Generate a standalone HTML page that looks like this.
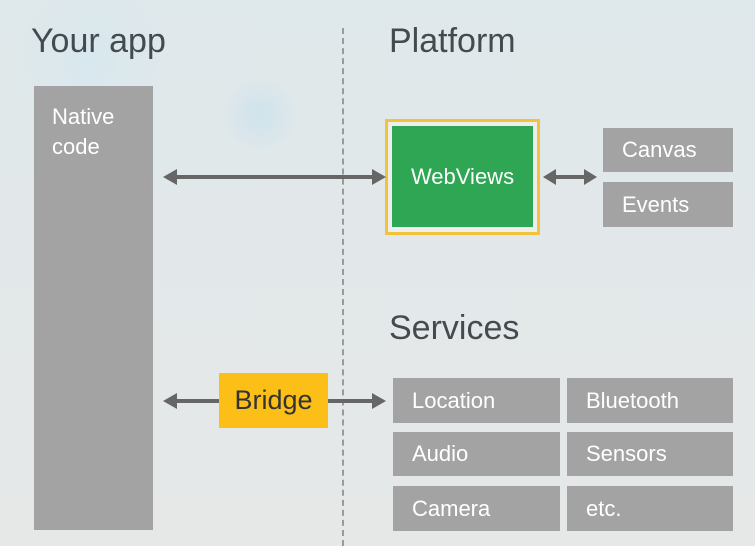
<!DOCTYPE html>
<html><head><meta charset="utf-8"><style>
body{margin:0;width:755px;height:546px;overflow:hidden;background:#e2e8ea;font-family:"Liberation Sans",sans-serif;position:relative}
.b{position:absolute;background:#a3a3a3;color:#fff;font-size:22px;box-sizing:border-box;padding-left:19px;display:flex;align-items:center}
.t{position:absolute;font-size:34px;color:#444b50}
</style></head><body>
<div style="position:absolute;left:0;top:0;width:755px;height:546px;background:radial-gradient(circle at 260px 115px,#cfe3ec 0,rgba(0,0,0,0) 40px),radial-gradient(circle at 90px 60px,#d8e8ee 0,rgba(0,0,0,0) 80px),linear-gradient(180deg,#dfe8eb,#e6e8e8)"></div>
<div class="t" style="left:31px;top:22px">Your app</div>
<div class="t" style="left:389px;top:22px">Platform</div>
<div class="t" style="left:389px;top:309px">Services</div>
<div style="position:absolute;left:342px;top:28px;height:518px;border-left:2px dashed #9a9a9a"></div>
<div class="b" style="left:34px;top:86px;width:119px;height:444px;align-items:flex-start;padding-top:16px;padding-left:18px;line-height:30px">Native<br>code</div>
<div style="position:absolute;left:385px;top:119px;width:155px;height:116px;box-sizing:border-box;border:3px solid #f2c33a;background:#eee"></div>
<div style="position:absolute;left:392px;top:126px;width:141px;height:101px;background:#2ea653;color:#fff;font-size:22px;display:flex;align-items:center;justify-content:center">WebViews</div>
<div class="b" style="left:603px;top:128px;width:130px;height:44px">Canvas</div>
<div class="b" style="left:603px;top:182px;width:130px;height:45px">Events</div>
<div style="position:absolute;left:219px;top:373px;width:109px;height:55px;background:#fbbf17;color:#333;font-size:27px;display:flex;align-items:center;justify-content:center">Bridge</div>
<div class="b" style="left:393px;top:378px;width:167px;height:45px">Location</div>
<div class="b" style="left:567px;top:378px;width:166px;height:45px">Bluetooth</div>
<div class="b" style="left:393px;top:432px;width:167px;height:44px">Audio</div>
<div class="b" style="left:567px;top:432px;width:166px;height:44px">Sensors</div>
<div class="b" style="left:393px;top:486px;width:167px;height:45px">Camera</div>
<div class="b" style="left:567px;top:486px;width:166px;height:45px">etc.</div>
<svg width="755" height="546" style="position:absolute;left:0;top:0">
<g stroke="#666" stroke-width="4" fill="#666">
<line x1="170" y1="177" x2="378" y2="177"/>
<line x1="550" y1="177" x2="590" y2="177"/>
<line x1="170" y1="401" x2="219" y2="401"/>
<line x1="328" y1="401" x2="378" y2="401"/>
</g>
<g fill="#666">
<polygon points="163,177 177,169 177,185"/><polygon points="386,177 372,169 372,185"/>
<polygon points="543,177 556,169 556,185"/><polygon points="597,177 584,169 584,185"/>
<polygon points="163,401 177,393 177,409"/><polygon points="386,401 372,393 372,409"/>
</g></svg>
</body></html>
